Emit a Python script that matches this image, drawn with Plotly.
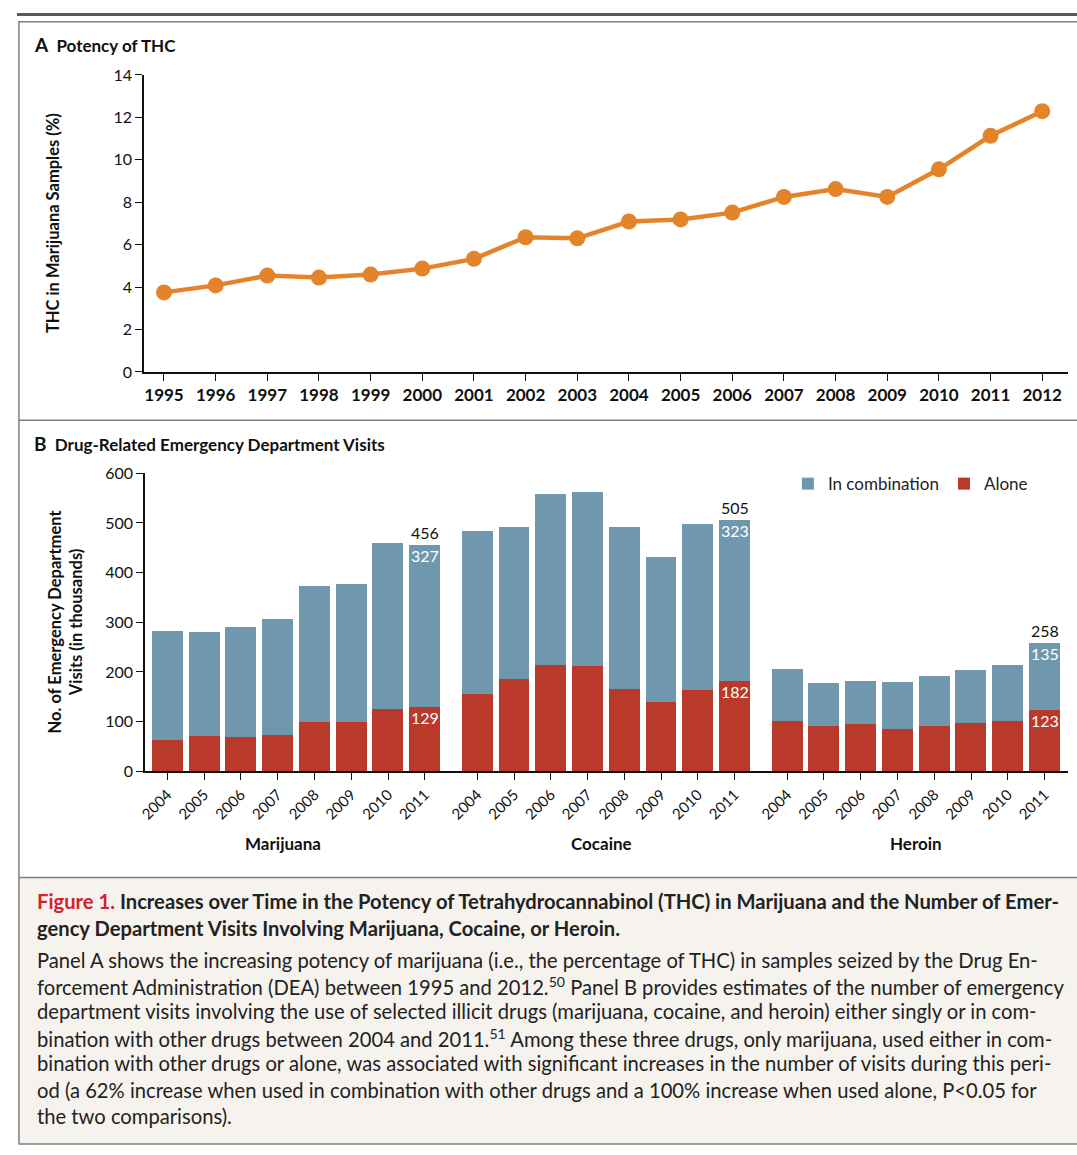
import plotly.graph_objects as go

# ---------------- data ----------------
thc_years = list(range(1995, 2013))
thc_pct = [3.75, 4.08, 4.54, 4.45, 4.59, 4.87, 5.33, 6.35, 6.30, 7.09, 7.19, 7.51,
           8.25, 8.62, 8.25, 9.55, 11.13, 12.29]

ed_years = ["2004", "2005", "2006", "2007", "2008", "2009", "2010", "2011"]
drugs = ["Marijuana", "Cocaine", "Heroin"]

marijuana_alone = [63, 71, 68, 73, 99, 99, 125, 129]
marijuana_combo = [218, 208, 221, 234, 273, 277, 334, 327]
cocaine_alone = [156, 186, 214, 212, 166, 139, 164, 182]
cocaine_combo = [327, 305, 344, 350, 325, 291, 333, 323]
heroin_alone = [101, 91, 95, 85, 91, 97, 101, 123]
heroin_combo = [105, 87, 87, 95, 101, 107, 113, 135]

alone_sets = [marijuana_alone, cocaine_alone, heroin_alone]
combo_sets = [marijuana_combo, cocaine_combo, heroin_combo]

# ---------------- style ----------------
W, H = 1077, 1155
FONT = "Lato, 'Open Sans', sans-serif"
CAP_FONT = "Lato, 'Noto Sans', sans-serif"
ORANGE = "#e5832b"
BLUE = "#6f98ae"
RED = "#b9392a"
GROUP_STEP = 8.43


def px(x):
    return x / W


def py(y):
    return 1 - y / H


fig = go.Figure()

# Panel A line
fig.add_trace(go.Scatter(
    x=thc_years, y=thc_pct, mode="lines+markers",
    line=dict(color=ORANGE, width=4.5),
    marker=dict(color=ORANGE, size=16),
    xaxis="x", yaxis="y", showlegend=False, cliponaxis=False,
))

# Panel B bars
xs_all, ticktext = [], []
for g, drug in enumerate(drugs):
    xs = [g * GROUP_STEP + i for i in range(len(ed_years))]
    xs_all += xs
    ticktext += ed_years
    fig.add_trace(go.Bar(
        x=xs, y=alone_sets[g], width=0.84, marker=dict(color=RED, line=dict(width=0)),
        name="Alone", legendgroup="Alone", showlegend=(g == 0), legendrank=2,
        xaxis="x2", yaxis="y2",
    ))
    fig.add_trace(go.Bar(
        x=xs, y=combo_sets[g], width=0.84, marker=dict(color=BLUE, line=dict(width=0)),
        name="In combination", legendgroup="Comb", showlegend=(g == 0), legendrank=1,
        xaxis="x2", yaxis="y2",
    ))

annotations = []
# value labels on last bar of each group
for g, drug in enumerate(drugs):
    xl = g * GROUP_STEP + len(ed_years) - 1
    a = alone_sets[g][-1]
    c = combo_sets[g][-1]
    t = a + c
    annotations.append(dict(x=xl, y=t, xref="x2", yref="y2", text=str(t), showarrow=False,
                            xanchor="center", yanchor="bottom", yshift=1,
                            font=dict(size=16, color="#111", family=FONT)))
    annotations.append(dict(x=xl, y=t, xref="x2", yref="y2", text=str(c), showarrow=False,
                            xanchor="center", yanchor="top", yshift=1,
                            font=dict(size=16, color="white", family=FONT)))
    annotations.append(dict(x=xl, y=a, xref="x2", yref="y2", text=str(a), showarrow=False,
                            xanchor="center", yanchor="top", yshift=1,
                            font=dict(size=16, color="white", family=FONT)))

# group labels
group_label_x = [3.15, 11.8, 20.36]
for g, drug in enumerate(drugs):
    annotations.append(dict(x=group_label_x[g], y=py(847), xref="x2", yref="paper", text="<b>%s</b>" % drug,
                            showarrow=False, xanchor="center", yanchor="middle",
                            font=dict(size=17, color="#111", family=FONT)))

# panel titles
annotations.append(dict(x=px(25), y=py(35), xref="paper", yref="paper", xanchor="left", yanchor="middle",
                        text="<b><span style='font-size:19px'>A</span>  Potency of THC</b>", showarrow=False,
                        font=dict(size=17, color="#111", family=FONT)))
annotations.append(dict(x=px(25), y=py(441), xref="paper", yref="paper", xanchor="left", yanchor="middle",
                        text="<b><span style='font-size:19px'>B</span>  Drug-Related Emergency Department Visits</b>",
                        showarrow=False, font=dict(size=17, color="#111", family=FONT)))

# y-axis titles
annotations.append(dict(x=px(47), y=py(217), xref="paper", yref="paper", textangle=-90,
                        xanchor="center", yanchor="middle",
                        text="<b>THC in Marijuana Samples (%)</b>", showarrow=False,
                        font=dict(size=16.5, color="#111", family=FONT)))
annotations.append(dict(x=px(59), y=py(622), xref="paper", yref="paper", textangle=-90,
                        xanchor="center", yanchor="middle",
                        text="<b>No. of Emergency Department<br>Visits (in thousands)</b>", showarrow=False,
                        font=dict(size=16.5, color="#111", family=FONT)))

# caption
cap_lines_bold = [
    "<span style='color:#d1232a'>Figure 1.</span> Increases over Time in the Potency of Tetrahydrocannabinol (THC) in Marijuana and the Number of Emer-",
    "gency Department Visits Involving Marijuana, Cocaine, or Heroin.",
]
cap_lines = [
    "Panel A shows the increasing potency of marijuana (i.e., the percentage of THC) in samples seized by the Drug En-",
    "forcement Administration (DEA) between 1995 and 2012.<sup>50</sup> Panel B provides estimates of the number of emergency",
    "department visits involving the use of selected illicit drugs (marijuana, cocaine, and heroin) either singly or in com-",
    "bination with other drugs between 2004 and 2011.<sup>51</sup> Among these three drugs, only marijuana, used either in com-",
    "bination with other drugs or alone, was associated with significant increases in the number of visits during this peri-",
    "od (a 62% increase when used in combination with other drugs and a 100% increase when used alone, P<0.05 for",
    "the two comparisons).",
]
cap_y = [906, 933, 966, 992, 1018, 1045, 1071, 1098, 1124]
for i, line in enumerate(cap_lines_bold + cap_lines):
    txt = "<b>%s</b>" % line if i < 2 else line
    annotations.append(dict(x=px(28), y=py(cap_y[i]), xref="paper", yref="paper", xanchor="left",
                            yanchor="middle", text=txt, showarrow=False,
                            font=dict(size=20.2, color="#222", family=CAP_FONT)))

RIGHT = 1.02
shapes = [
    dict(type="line", xref="paper", yref="paper", x0=px(10), x1=RIGHT, y0=py(4.5), y1=py(4.5),
         line=dict(color="#5a5a5a", width=3)),
    dict(type="rect", xref="paper", yref="paper", x0=px(12), x1=RIGHT, y0=py(882), y1=py(1153),
         fillcolor="#f6f2ee", line=dict(width=0), layer="below"),
    dict(type="rect", xref="paper", yref="paper", x0=px(12), x1=RIGHT, y0=py(1153), y1=py(12),
         fillcolor="rgba(0,0,0,0)", line=dict(color="#808080", width=1.5)),
    dict(type="line", xref="paper", yref="paper", x0=px(12), x1=RIGHT, y0=py(417), y1=py(417),
         line=dict(color="#808080", width=1.5)),
    dict(type="line", xref="paper", yref="paper", x0=px(12), x1=RIGHT, y0=py(882), y1=py(882),
         line=dict(color="#808080", width=1.5)),
]

axis_common = dict(showline=True, linecolor="#111", linewidth=1.5, ticks="outside", ticklen=7,
                   tickwidth=1.2, tickcolor="#111", showgrid=False, zeroline=False)

fig.update_layout(
    width=W, height=H, margin=dict(l=0, r=0, t=0, b=0),
    paper_bgcolor="white", plot_bgcolor="rgba(0,0,0,0)",
    font=dict(family=FONT, color="#111"),
    barmode="stack", bargap=0,
    xaxis=dict(domain=[px(138), px(1068)], range=[1994.615, 2012.5], anchor="y",
               tickvals=thc_years, ticktext=["<b>%d</b>" % y for y in thc_years],
               tickfont=dict(size=17, family=FONT, color="#111"), **axis_common),
    yaxis=dict(domain=[py(368), py(66)], range=[0, 14], anchor="x", tickvals=list(range(0, 15, 2)),
               tickfont=dict(size=16, family=FONT, color="#111"), **axis_common),
    xaxis2=dict(domain=[px(139), px(1068)], range=[-0.608, 24.5], anchor="y2",
                tickvals=xs_all, ticktext=ticktext, tickangle=-45,
                tickfont=dict(size=15, family=FONT, color="#111"), **axis_common),
    yaxis2=dict(domain=[py(774), py(471)], range=[0, 600], anchor="x2", tickvals=list(range(0, 601, 100)),
                tickfont=dict(size=16, family=FONT, color="#111"), **axis_common),
    legend=dict(orientation="h", x=px(786), y=py(482), xanchor="left", yanchor="middle",
                font=dict(size=17, family=FONT, color="#222"), bgcolor="rgba(0,0,0,0)",
                itemwidth=30, traceorder="normal"),
    annotations=annotations,
    shapes=shapes,
)

fig.write_html(
    "out.html",
    config={"displayModeBar": False},
    post_script="document.documentElement.style.margin='0';document.body.style.margin='0';"
                "document.documentElement.style.overflow='hidden';document.body.style.overflow='hidden';",
)
